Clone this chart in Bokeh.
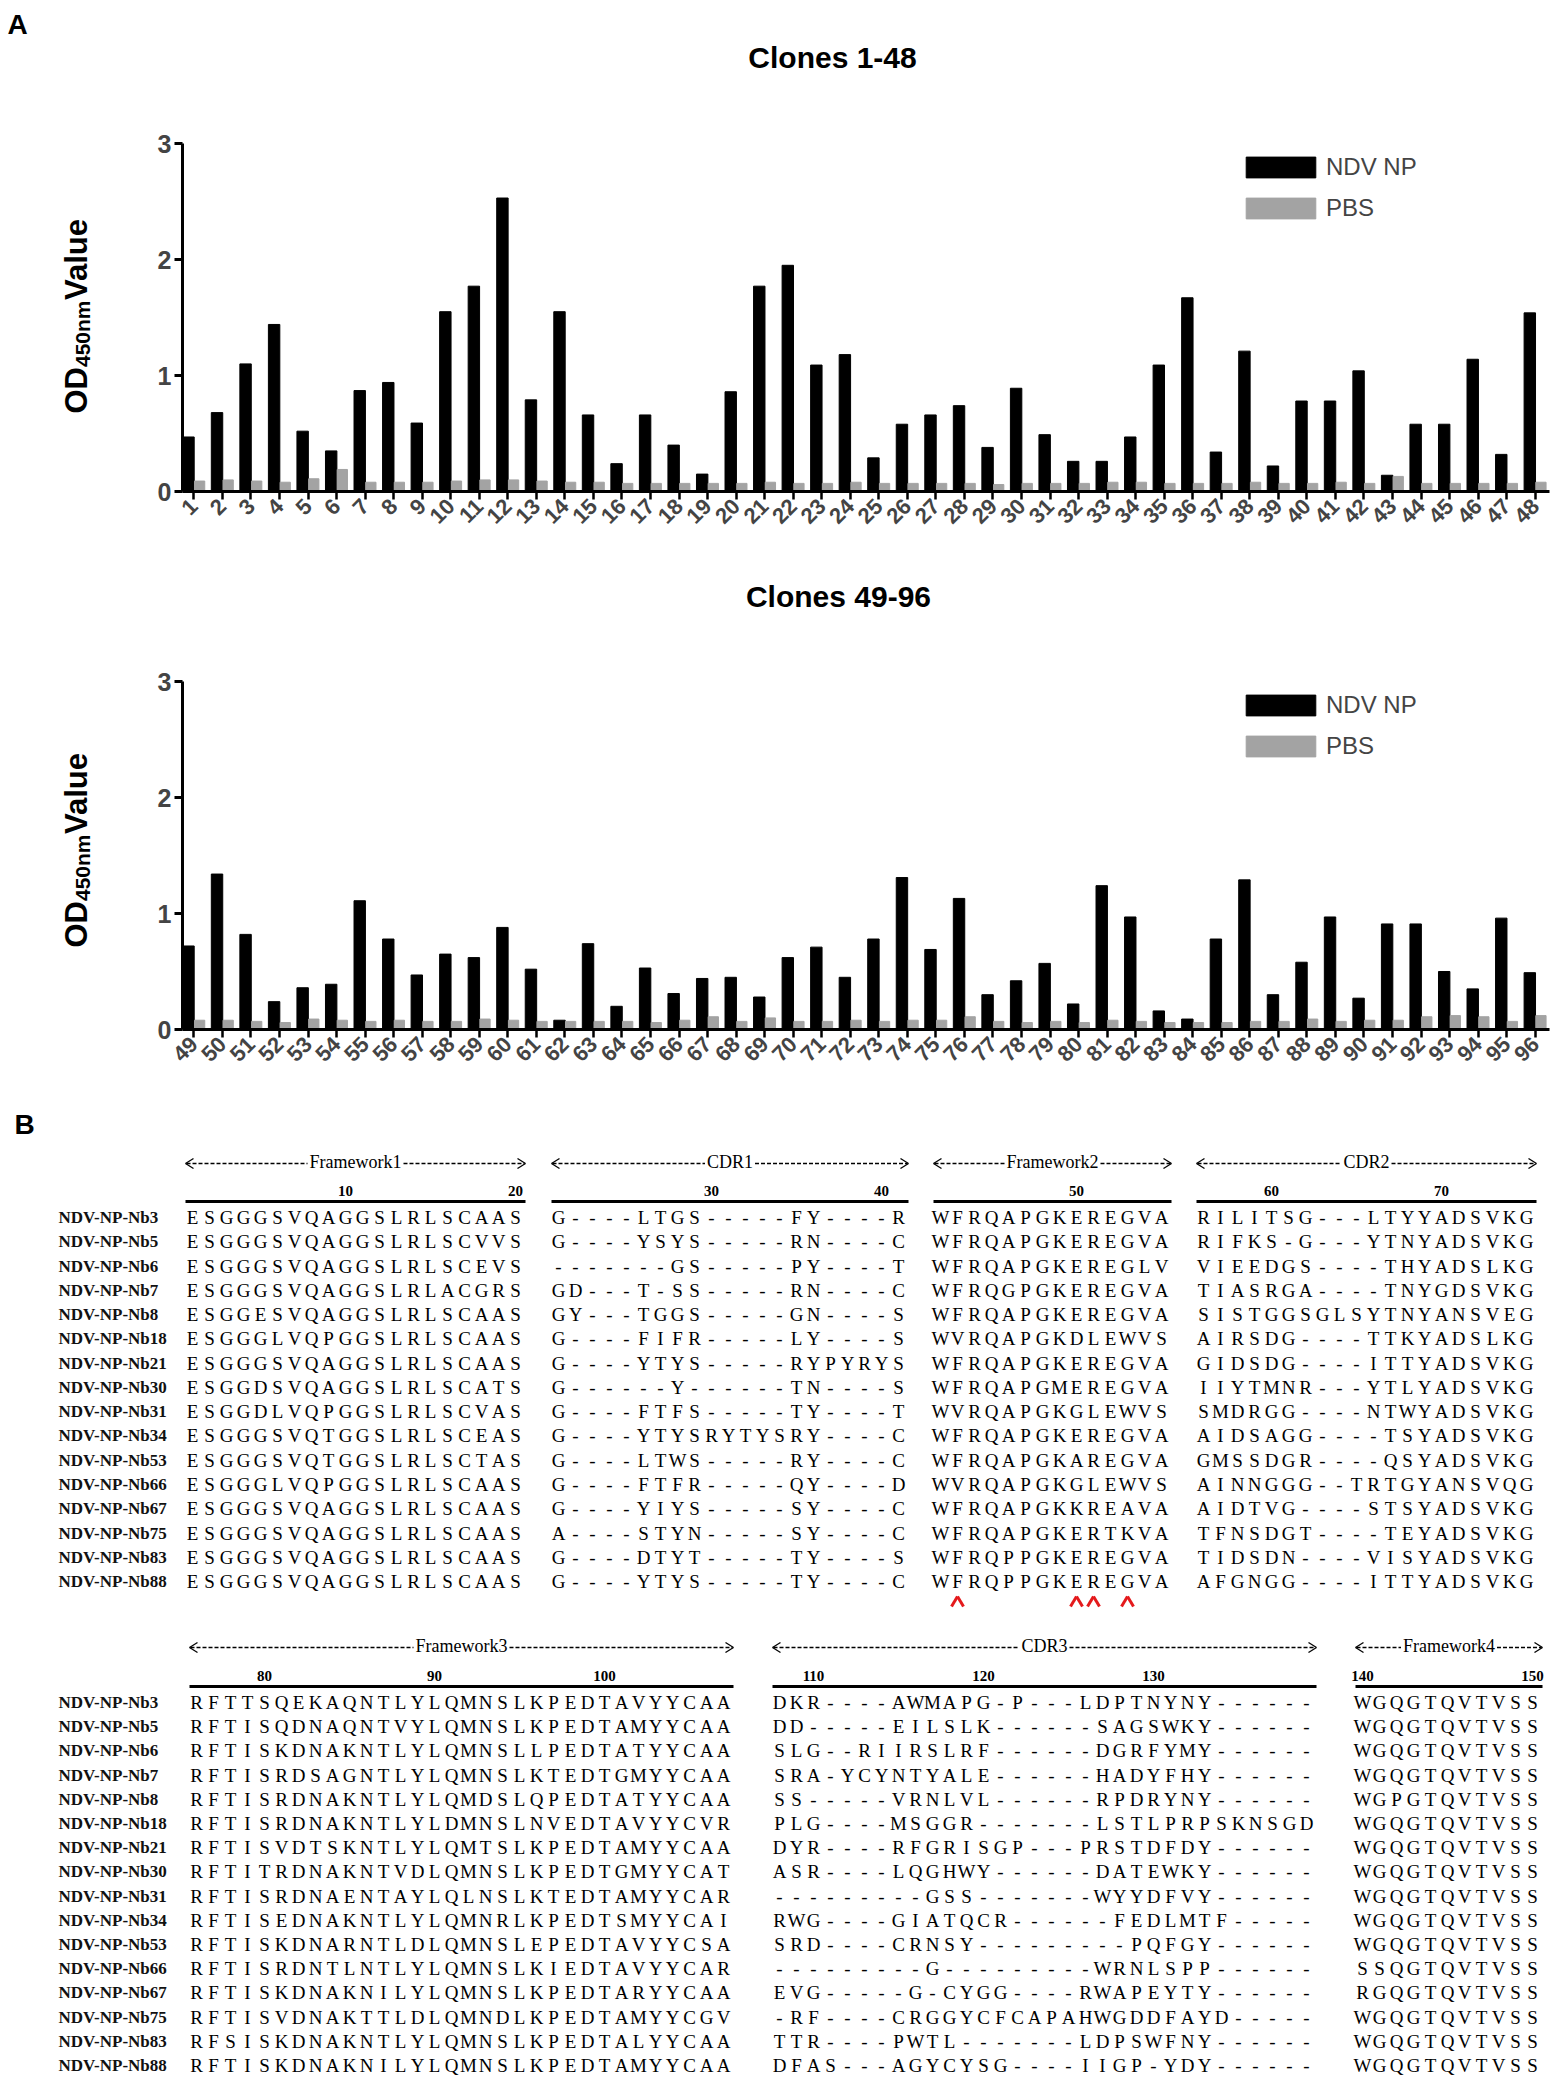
import math
from bokeh.plotting import figure
from bokeh.models import Range1d, FixedTicker, Legend, LegendItem, ColumnDataSource
from bokeh.layouts import column, row
from bokeh.transform import dodge
from bokeh.embed import file_html
from bokeh.resources import INLINE
from bokeh.core.properties import value

# ---------------- data: panel A ----------------
clones_1 = list(range(1, 49))
ndv_1 = [0.47, 0.68, 1.10, 1.44, 0.52, 0.35, 0.87, 0.94, 0.59, 1.55,
         1.77, 2.53, 0.79, 1.55, 0.66, 0.24, 0.66, 0.40, 0.15, 0.86,
         1.77, 1.95, 1.09, 1.18, 0.29, 0.58, 0.66, 0.74, 0.38, 0.89,
         0.49, 0.26, 0.26, 0.47, 1.09, 1.67, 0.34, 1.21, 0.22, 0.78,
         0.78, 1.04, 0.14, 0.58, 0.58, 1.14, 0.32, 1.54]
pbs_1 = [0.09, 0.10, 0.09, 0.08, 0.11, 0.19, 0.08, 0.08, 0.08, 0.09,
         0.10, 0.10, 0.09, 0.08, 0.08, 0.07, 0.07, 0.07, 0.07, 0.07,
         0.08, 0.07, 0.07, 0.08, 0.07, 0.07, 0.07, 0.07, 0.06, 0.07,
         0.07, 0.07, 0.08, 0.08, 0.07, 0.07, 0.07, 0.08, 0.07, 0.07,
         0.08, 0.07, 0.13, 0.07, 0.07, 0.07, 0.07, 0.08]

clones_2 = list(range(49, 97))
ndv_2 = [0.72, 1.34, 0.82, 0.24, 0.36, 0.39, 1.11, 0.78, 0.47, 0.65,
         0.62, 0.88, 0.52, 0.08, 0.74, 0.20, 0.53, 0.31, 0.44, 0.45,
         0.28, 0.62, 0.71, 0.45, 0.78, 1.31, 0.69, 1.13, 0.30, 0.42,
         0.57, 0.22, 1.24, 0.97, 0.16, 0.09, 0.78, 1.29, 0.30, 0.58,
         0.97, 0.27, 0.91, 0.91, 0.50, 0.35, 0.96, 0.49]
pbs_2 = [0.08, 0.08, 0.07, 0.06, 0.09, 0.08, 0.07, 0.08, 0.07, 0.07,
         0.09, 0.08, 0.07, 0.07, 0.07, 0.07, 0.06, 0.08, 0.11, 0.07,
         0.10, 0.07, 0.07, 0.08, 0.07, 0.08, 0.08, 0.11, 0.07, 0.06,
         0.07, 0.06, 0.08, 0.07, 0.06, 0.06, 0.06, 0.07, 0.07, 0.09,
         0.07, 0.08, 0.08, 0.11, 0.12, 0.11, 0.07, 0.12]

y_ticks = [0, 1, 2, 3]
series_names = ["NDV NP", "PBS"]
titles = ["Clones 1-48", "Clones 49-96"]

# ---------------- data: panel B ----------------
nb_names = ["NDV-NP-Nb3", "NDV-NP-Nb5", "NDV-NP-Nb6", "NDV-NP-Nb7", "NDV-NP-Nb8",
            "NDV-NP-Nb18", "NDV-NP-Nb21", "NDV-NP-Nb30", "NDV-NP-Nb31", "NDV-NP-Nb34",
            "NDV-NP-Nb53", "NDV-NP-Nb66", "NDV-NP-Nb67", "NDV-NP-Nb75", "NDV-NP-Nb83",
            "NDV-NP-Nb88"]
fr1 = ["ESGGGSVQAGGSLRLSCAAS", "ESGGGSVQAGGSLRLSCVVS", "ESGGGSVQAGGSLRLSCEVS",
       "ESGGGSVQAGGSLRLACGRS", "ESGGESVQAGGSLRLSCAAS", "ESGGGLVQPGGSLRLSCAAS",
       "ESGGGSVQAGGSLRLSCAAS", "ESGGDSVQAGGSLRLSCATS", "ESGGDLVQPGGSLRLSCVAS",
       "ESGGGSVQTGGSLRLSCEAS", "ESGGGSVQTGGSLRLSCTAS", "ESGGGLVQPGGSLRLSCAAS",
       "ESGGGSVQAGGSLRLSCAAS", "ESGGGSVQAGGSLRLSCAAS", "ESGGGSVQAGGSLRLSCAAS",
       "ESGGGSVQAGGSLRLSCAAS"]
cdr1 = ["G----LTGS-----FY----R", "G----YSYS-----RN----C", "-------GS-----PY----T",
        "GD---T-SS-----RN----C", "GY---TGGS-----GN----S", "G----FIFR-----LY----S",
        "G----YTYS-----RYPYRYS", "G------Y------TN----S", "G----FTFS-----TY----T",
        "G----YTYSRYTYSRY----C", "G----LTWS-----RY----C", "G----FTFR-----QY----D",
        "G----YIYS-----SY----C", "A----STYN-----SY----C", "G----DTYT-----TY----S",
        "G----YTYS-----TY----C"]
fr2 = ["WFRQAPGKEREGVA", "WFRQAPGKEREGVA", "WFRQAPGKEREGLV", "WFRQGPGKEREGVA",
       "WFRQAPGKEREGVA", "WVRQAPGKDLEWVS", "WFRQAPGKEREGVA", "WFRQAPGMEREGVA",
       "WVRQAPGKGLEWVS", "WFRQAPGKEREGVA", "WFRQAPGKAREGVA", "WVRQAPGKGLEWVS",
       "WFRQAPGKKREAVA", "WFRQAPGKERTKVA", "WFRQPPGKEREGVA", "WFRQPPGKEREGVA"]
cdr2 = ["RILITSG---LTYYADSVKG", "RIFKS-G---YTNYADSVKG", "VIEEDGS----THYADSLKG",
        "TIASRGA----TNYGDSVKG", "SISTGGSGLSYTNYANSVEG", "AIRSDG----TTKYADSLKG",
        "GIDSDG----ITTYADSVKG", "IIYTMNR---YTLYADSVKG", "SMDRGG----NTWYADSVKG",
        "AIDSAGG----TSYADSVKG", "GMSSDGR----QSYADSVKG", "AINNGGG--TRTGYANSVQG",
        "AIDTVG----STSYADSVKG", "TFNSDGT----TEYADSVKG", "TIDSDN----VISYADSVKG",
        "AFGNGG----ITTYADSVKG"]
fr3 = ["RFTTSQEKAQNTLYLQMNSLKPEDTAVYYCAA", "RFTISQDNAQNTVYLQMNSLKPEDTAMYYCAA",
       "RFTISKDNAKNTLYLQMNSLLPEDTATYYCAA", "RFTISRDSAGNTLYLQMNSLKTEDTGMYYCAA",
       "RFTISRDNAKNTLYLQMDSLQPEDTATYYCAA", "RFTISRDNAKNTLYLDMNSLNVEDTAVYYCVR",
       "RFTISVDTSKNTLYLQMTSLKPEDTAMYYCAA", "RFTITRDNAKNTVDLQMNSLKPEDTGMYYCAT",
       "RFTISRDNAENTAYLQLNSLKTEDTAMYYCAR", "RFTISEDNAKNTLYLQMNRLKPEDTSMYYCAI",
       "RFTISKDNARNTLDLQMNSLEPEDTAVYYCSA", "RFTISRDNTLNTLYLQMNSLKIEDTAVYYCAR",
       "RFTISKDNAKNILYLQMNSLKPEDTARYYCAA", "RFTISVDNAKTTLDLQMNDLKPEDTAMYYCGV",
       "RFSISKDNAKNTLYLQMNSLKPEDTALYYCAA", "RFTISKDNAKNILYLQMNSLKPEDTAMYYCAA"]
cdr3 = ["DKR----AWMAPG-P---LDPTNYNY------", "DD-----EILSLK------SAGSWKY------",
        "SLG--RIIRSLRF------DGRFYMY------", "SRA-YCYNTYALE------HADYFHY------",
        "SS-----VRNLVL------RPDRYNY------", "PLG----MSGGR-------LSTLPRPSKNSGD",
        "DYR----RFGRISGP---PRSTDFDY------", "ASR----LQGHWY------DATEWKY------",
        "---------GSS-------WYYDFVY------", "RWG----GIATQCR------FEDLMTF-----",
        "SRD----CRNSY---------PQFGY------", "---------G---------WRNLSPP------",
        "EVG-----G-CYGG----RWAPEYTY------", "-RF----CRGGYCFCAPAHWGDDFAYD-----",
        "TTR----PWTL-------LDPSWFNY------", "DFAS---AGYCYSG----IIGP-YDY------"]
fr4 = ["WGQGTQVTVSS", "WGQGTQVTVSS", "WGQGTQVTVSS", "WGQGTQVTVSS", "WGPGTQVTVSS",
       "WGQGTQVTVSS", "WGQGTQVTVSS", "WGQGTQVTVSS", "WGQGTQVTVSS", "WGQGTQVTVSS",
       "WGQGTQVTVSS", "SSQGTQVTVSS", "RGQGTQVTVSS", "WGQGTQVTVSS", "WGQGTQVTVSS",
       "WGQGTQVTVSS"]
region_labels = ["Framework1", "CDR1", "Framework2", "CDR2", "Framework3", "CDR3", "Framework4"]
region_first_residue = [1, 21, 42, 56, 76, 108, 140]
hallmark_fr2_index = [1, 8, 9, 11]   # marked residues in FR2 of the last clone

# ---------------- layout constants (page pixels, origin at page top-left) ----------------
FIG_W = 1554
YLAB_W = 120           # strip holding the rotated y-axis title
FRAME_L = 182          # page x of the y axis
FRAME_W = 1367
X_PAD_L, X_PAD_R = 0.40, 0.50
FONT_SANS = "Liberation Sans"
FONT_SERIF = "Liberation Serif"
BLACK = "#000000"
GREY = "#a3a3a3"


def text_fig(width, height, page_left, page_top):
    """A canvas whose data coordinates are page pixels (y downwards)."""
    f = figure(width=width, height=height,
               x_range=Range1d(page_left, page_left + width),
               y_range=Range1d(page_top + height, page_top),
               x_axis_type=None, y_axis_type=None, output_backend="svg",
               toolbar_location=None, min_border=0, frame_align=False)
    f.outline_line_color = None
    f.grid.visible = False
    return f


def bar_chart(clones, ndv, pbs, height, b_top, b_bot):
    x0, x1 = clones[0] - X_PAD_L, clones[-1] + X_PAD_R
    b_left = FRAME_L - YLAB_W
    p = figure(width=FIG_W - YLAB_W, height=height, x_range=Range1d(x0, x1), y_range=Range1d(0, 3),
               output_backend="svg", toolbar_location=None,
               min_border_left=b_left, min_border_right=FIG_W - YLAB_W - b_left - FRAME_W,
               min_border_top=b_top, min_border_bottom=b_bot, frame_align=False)
    frame_h = height - b_top - b_bot

    src = ColumnDataSource(dict(clone=clones, ndv=ndv, pbs=pbs))
    r1 = p.vbar(x=dodge("clone", -0.19, range=p.x_range), top="ndv", width=0.40, source=src,
                fill_color=BLACK, line_color=BLACK)
    r2 = p.vbar(x=dodge("clone", 0.20, range=p.x_range), top="pbs", width=0.36, source=src,
                fill_color=GREY, line_color=GREY)

    p.xgrid.visible = False
    p.ygrid.visible = False
    p.outline_line_color = None

    p.yaxis.ticker = FixedTicker(ticks=y_ticks)
    p.yaxis.major_label_text_font = FONT_SANS
    p.yaxis.major_label_text_font_style = "bold"
    p.yaxis.major_label_text_font_size = "25px"
    p.yaxis.axis_line_width = 3
    p.yaxis.major_tick_line_width = 3
    p.yaxis.major_tick_out = 8
    p.yaxis.major_tick_in = 0
    p.yaxis.minor_tick_line_color = None
    p.yaxis.major_label_standoff = 3

    p.xaxis.ticker = FixedTicker(ticks=clones)
    p.xaxis.major_label_orientation = math.pi / 4
    p.xaxis.major_label_text_font = FONT_SANS
    p.xaxis.major_label_text_font_style = "bold"
    p.xaxis.major_label_text_font_size = "22px"
    p.xaxis.axis_line_width = 3
    p.xaxis.major_tick_line_width = 2.5
    p.xaxis.major_tick_out = 8
    p.xaxis.major_tick_in = 0
    p.xaxis.minor_tick_line_color = None
    p.xaxis.major_label_standoff = 3

    legend = Legend(items=[LegendItem(label=series_names[0], renderers=[r1]),
                           LegendItem(label=series_names[1], renderers=[r2])],
                    location=(1237 - FRAME_L, frame_h - 8 - 71),
                    glyph_width=87, glyph_height=26, spacing=13,
                    padding=0, margin=0, label_standoff=2,
                    label_text_font=FONT_SANS, label_text_font_size="24px",
                    label_text_baseline="middle",
                    border_line_color=None, background_fill_alpha=0)
    p.add_layout(legend)
    return p


def ylabel_fig(height, page_top, start_y):
    f = text_fig(YLAB_W, height, 0, page_top)
    f.text(x=[76], y=[start_y], text=["OD"], angle=math.pi / 2, text_align="left",
           text_baseline="alphabetic", text_font=value(FONT_SANS), text_font_style="bold",
           text_font_size="31px")
    f.text(x=[82], y=[start_y - 46.5], text=["450nm"], angle=math.pi / 2, text_align="left",
           text_baseline="alphabetic", text_font=value(FONT_SANS), text_font_style="bold",
           text_font_size="21px")
    f.text(x=[76], y=[start_y - 46.5 - 67], text=[" Value"], angle=math.pi / 2, text_align="left",
           text_baseline="alphabetic", text_font=value(FONT_SANS), text_font_style="bold",
           text_font_size="31px")
    return f


def title_text(f, x, y, txt, size="30px"):
    f.text(x=[x], y=[y], text=[txt], text_align="center", text_baseline="middle",
           text_font=value(FONT_SANS), text_font_style="bold", text_font_size=size)


# --- strip with "A" and the first title: page y 0..110
t1 = text_fig(FIG_W, 110, 0, 0)
title_text(t1, 17, 24, "A", "28px")
title_text(t1, 832, 57, titles[0])

# --- chart 1: page y 110..568 ; frame 143..491
c1 = bar_chart(clones_1, ndv_1, pbs_1, 458, 33, 77)
y1 = ylabel_fig(458, 110, 413)

# --- strip with second title: page y 568..640
t2 = text_fig(FIG_W, 72, 0, 568)
title_text(t2, 838, 596, titles[1])

# --- chart 2: page y 640..1098 ; frame 681..1029
c2 = bar_chart(clones_2, ndv_2, pbs_2, 458, 41, 69)
y2 = ylabel_fig(458, 640, 947)

# ---------------- panel B : alignment ----------------
P3_TOP = 1098
P3_H = 985
p3 = text_fig(FIG_W, P3_H, 0, P3_TOP)

PITCH = 17.0
SEQ_FS = 19
HDR_FS = 18
FR2_X = 940
blocks = [
    dict(segs=[(fr1, 192), (cdr1, 558), (fr2, FR2_X), (cdr2, 1203)], regions=[0, 1, 2, 3],
         header_y=1161, num_y=1190, rule_y=1201, row_y0=1217, row_dy=24.27),
    dict(segs=[(fr3, 196), (cdr3, 779), (fr4, 1362)], regions=[4, 5, 6],
         header_y=1645, num_y=1675, rule_y=1686, row_y0=1702, row_dy=24.2),
]

cx, cy, ct = [], [], []
nx, ny, nt = [], [], []
numx, numy, numt = [], [], []
hx, hy, ht = [], [], []
rule_x0, rule_x1, rule_y = [], [], []
dash_x0, dash_x1, dash_y = [], [], []
arr_x0, arr_y0, arr_x1, arr_y1 = [], [], [], []

for b in blocks:
    for k in range(len(nb_names)):
        y = b["row_y0"] + k * b["row_dy"]
        nx.append(58); ny.append(y); nt.append(nb_names[k])
        for seqs, xs in b["segs"]:
            for j, ch in enumerate(seqs[k]):
                cx.append(xs + j * PITCH); cy.append(y); ct.append(ch)
    for (seqs, xs), reg in zip(b["segs"], b["regions"]):
        n = len(seqs[0])
        left = xs - 7
        right = xs + (n - 1) * PITCH + 10
        rule_x0.append(left); rule_x1.append(right); rule_y.append(b["rule_y"])
        first = region_first_residue[reg]
        for r in range(first, first + n):
            if r % 10 == 0:
                numx.append(xs + (r - first) * PITCH); numy.append(b["num_y"]); numt.append(str(r))
        label = region_labels[reg]
        mid = (left + right) / 2
        half = (5.11 if label.startswith("F") else 2.556) * HDR_FS / 2 + 2
        hx.append(mid); hy.append(b["header_y"]); ht.append(label)
        hyy = b["header_y"] + 2
        dash_x0 += [left + 1, mid + half]; dash_x1 += [mid - half, right - 1]; dash_y += [hyy, hyy]
        for (tip, d) in [(left, 1), (right, -1)]:
            arr_x0 += [tip, tip]; arr_y0 += [hyy, hyy]
            arr_x1 += [tip + d * 8, tip + d * 8]; arr_y1 += [hyy - 5, hyy + 5]

p3.text(x="x", y="y", text="t", source=ColumnDataSource(dict(x=cx, y=cy, t=ct)),
        text_font=value(FONT_SERIF), text_font_size=f"{SEQ_FS}px", text_align="center",
        text_baseline="middle", text_color="black")
p3.text(x="x", y="y", text="t", source=ColumnDataSource(dict(x=nx, y=ny, t=nt)),
        text_font=value(FONT_SERIF), text_font_style="bold", text_font_size="17px",
        text_align="left", text_baseline="middle", text_color="#111111")
p3.text(x="x", y="y", text="t", source=ColumnDataSource(dict(x=numx, y=numy, t=numt)),
        text_font=value(FONT_SERIF), text_font_style="bold", text_font_size="15px",
        text_align="center", text_baseline="middle", text_color="black")
p3.text(x="x", y="y", text="t", source=ColumnDataSource(dict(x=hx, y=hy, t=ht)),
        text_font=value(FONT_SERIF), text_font_size=f"{HDR_FS}px",
        text_align="center", text_baseline="middle", text_color="black")
p3.segment(x0=rule_x0, y0=rule_y, x1=rule_x1, y1=rule_y, line_color="black", line_width=3)
p3.segment(x0=dash_x0, y0=dash_y, x1=dash_x1, y1=dash_y, line_color="black", line_width=1.3,
           line_dash="4 2")
p3.segment(x0=arr_x0, y0=arr_y0, x1=arr_x1, y1=arr_y1, line_color="black", line_width=1.3)

car_x0, car_y0, car_x1, car_y1 = [], [], [], []
for idx in hallmark_fr2_index:
    xc = FR2_X + idx * PITCH
    car_x0 += [xc - 6, xc]; car_y0 += [1606, 1596]
    car_x1 += [xc, xc + 6]; car_y1 += [1596, 1606]
p3.segment(x0=car_x0, y0=car_y0, x1=car_x1, y1=car_y1, line_color="#e41a1c", line_width=3)

title_text(p3, 24, 1124, "B", "28px")

layout = column(t1, row(y1, c1, spacing=0), t2, row(y2, c2, spacing=0), p3, spacing=0)
open("out.html", "w").write(file_html(layout, INLINE))
